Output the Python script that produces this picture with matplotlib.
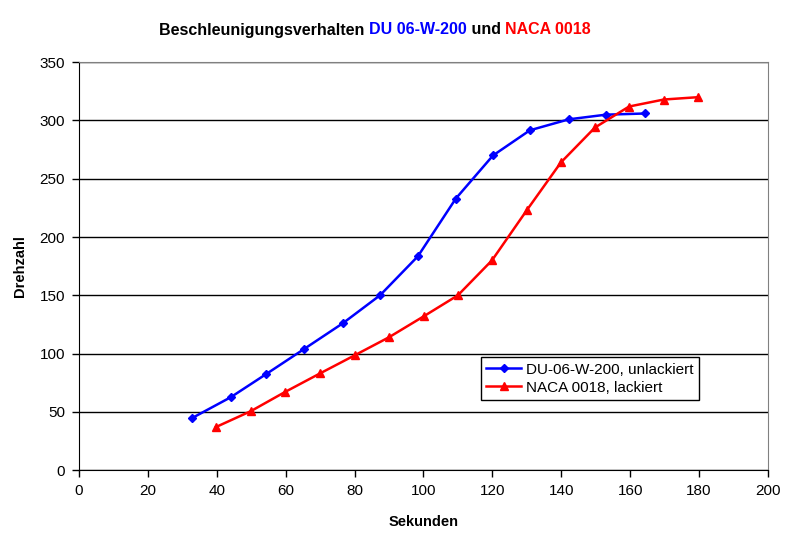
import matplotlib
matplotlib.use("Agg")
import matplotlib.pyplot as plt

plt.rcParams['font.family'] = ['Liberation Sans', 'DejaVu Sans']

# DU-06-W-200, unlackiert
du_sek = [32.8, 44.1, 54.3, 65.3, 76.6, 87.4, 98.4, 109.4, 120.2, 130.9, 142.2, 153.0, 164.3]
du_drehzahl = [44.6, 62.6, 82.3, 103.8, 126.0, 150.0, 183.5, 233.0, 270.0, 291.6, 301.0, 305.0, 306.0]

# NACA 0018, lackiert
naca_sek = [39.8, 49.9, 59.8, 70.0, 80.1, 90.0, 100.1, 110.0, 119.9, 130.0, 139.9, 149.8, 159.7, 169.8, 179.7]
naca_drehzahl = [37.0, 50.6, 67.0, 83.0, 98.6, 114.0, 132.0, 150.0, 180.0, 223.0, 264.0, 294.0, 312.0, 318.0, 320.0]

fig = plt.figure(figsize=(8.05, 5.41), dpi=100)
ax = fig.add_axes([0.098, 0.131, 0.856, 0.754])

ax.plot(du_sek, du_drehzahl, color="#0000ff", lw=1.8, marker="D", ms=4, label="DU-06-W-200, unlackiert")
ax.plot(naca_sek, naca_drehzahl, color="#ff0000", lw=1.8, marker="^", ms=6, label="NACA 0018, lackiert")

ax.set_xlim(0, 200)
ax.set_ylim(0, 350)
ax.set_xticks(range(0, 201, 20))
ax.set_yticks(range(0, 351, 50))
ax.yaxis.grid(True, color="black", lw=1)
ax.set_axisbelow(True)
for s in ["top", "right"]:
    ax.spines[s].set_color("#808080")
for s in ["left", "bottom"]:
    ax.spines[s].set_color("black")
ax.tick_params(direction="out", length=5, labelsize=11, width=1, pad=5)

ax.set_xlabel("Sekunden", fontsize=10.5, fontweight="bold", labelpad=12)
ax.set_ylabel("Drehzahl", fontsize=10.5, fontweight="bold", labelpad=9)

leg = ax.legend(loc="lower left", bbox_to_anchor=(0.583, 0.172), fontsize=11,
                frameon=True, fancybox=False, edgecolor="black", framealpha=1,
                borderpad=0.35, handlelength=2.3, handletextpad=0.3, labelspacing=0.25,
                borderaxespad=0)
leg.get_frame().set_linewidth(1)

# mehrfarbiger Titel
parts = [("Beschleunigungsverhalten ", "black"), ("DU 06-W-200", "#0000ff"),
         (" und ", "black"), ("NACA 0018", "#ff0000")]
fig.canvas.draw()
r = fig.canvas.get_renderer()
texts = []
for s, c in parts:
    t = fig.text(0, 1 - 30 / 541, s, color=c, fontsize=11.5, fontweight="bold", va="center", ha="left")
    texts.append(t)
widths = [t.get_window_extent(r).width for t in texts]
x0 = (375 - sum(widths) / 2)
for t, w in zip(texts, widths):
    t.set_x(x0 / 805)
    x0 += w

fig.savefig("out.png", dpi=100)
